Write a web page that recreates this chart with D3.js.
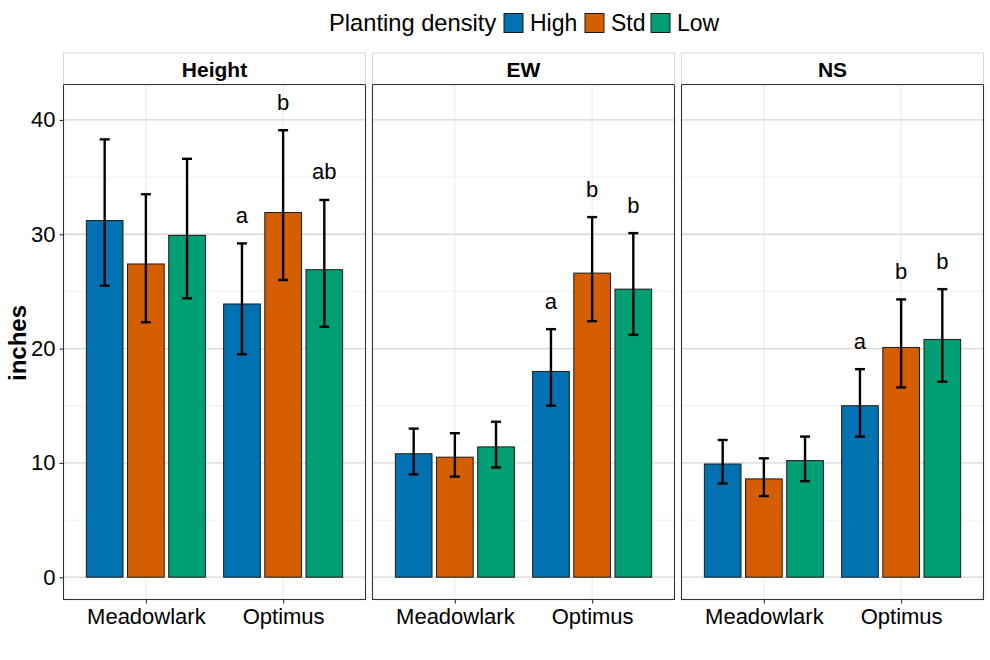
<!DOCTYPE html>
<meta charset="utf-8" />
<style>
  body { margin: 0; background: #fff; }
  svg text { font-family: "Liberation Sans", Arial, sans-serif; fill: #000; }
</style>
<body>
<div id="chart"></div>
<script src="https://cdn.jsdelivr.net/npm/d3@7"></script>
<script>
  // dados
  var paineis = ["Height", "EW", "NS"];
  var cultivares = ["Meadowlark", "Optimus"];
  var densidades = ["High", "Std", "Low"];
  var cores = ["#0072B2", "#D55E00", "#009E73"];
  var yTicks = [0, 10, 20, 30, 40];

  // medias: [painel][cultivar][densidade]
  var medias = [
    [[31.2, 27.4, 29.9], [23.9, 31.9, 26.9]],
    [[10.8, 10.5, 11.4], [18.0, 26.6, 25.2]],
    [[9.9, 8.6, 10.2], [15.0, 20.1, 20.8]],
  ];
  var superior = [
    [[38.3, 33.5, 36.6], [29.2, 39.1, 33.0]],
    [[13.0, 12.6, 13.6], [21.7, 31.5, 30.1]],
    [[12.0, 10.4, 12.3], [18.2, 24.3, 25.2]],
  ];
  var inferior = [
    [[25.5, 22.3, 24.4], [19.5, 26.0, 21.9]],
    [[9.0, 8.8, 9.6], [15.0, 22.4, 21.2]],
    [[8.2, 7.1, 8.4], [12.3, 16.6, 17.1]],
  ];
  var letras = [
    [["", "", ""], ["a", "b", "ab"]],
    [["", "", ""], ["a", "b", "b"]],
    [["", "", ""], ["a", "b", "b"]],
  ];

  var largura = 990, altura = 660;
  var esq = 63.5, larguraPainel = 302, espaco = 7;
  var topoStrip = 53, topoPainel = 84.5, basePainel = 599.5;

  var svg = d3.select("#chart").append("svg")
    .attr("width", largura).attr("height", altura);

  var y = d3.scaleLinear().domain([-1.95, 43.1]).range([basePainel, topoPainel]);
  var x = d3.scalePoint().domain(cultivares).range([0, larguraPainel]).padding(0.6);
  var passo = x.step();
  var dodge = d3.scaleBand().domain(densidades)
    .range([-0.45 * passo, 0.45 * passo])
    .paddingInner(0.11).paddingOuter(0.055);
  var cor = d3.scaleOrdinal().domain(densidades).range(cores);

  // montar linhas da tabela
  var linhas = [];
  paineis.forEach(function (p, pi) {
    cultivares.forEach(function (c, ci) {
      densidades.forEach(function (d, di) {
        linhas.push({ painel: pi, cultivar: c, densidade: d,
          valor: medias[pi][ci][di], sup: superior[pi][ci][di],
          inf: inferior[pi][ci][di], letra: letras[pi][ci][di] });
      });
    });
  });

  paineis.forEach(function (nome, pi) {
    var x0 = esq + pi * (larguraPainel + espaco);
    var g = svg.append("g").attr("transform", "translate(" + x0 + ",0)");

    // grade menor
    [5, 15, 25, 35].forEach(function (v) {
      g.append("line").attr("x1", 0).attr("x2", larguraPainel)
        .attr("y1", y(v)).attr("y2", y(v))
        .attr("stroke", "#ececec").attr("stroke-width", 0.8);
    });
    cultivares.forEach(function (c) {
      g.append("line").attr("x1", x(c)).attr("x2", x(c))
        .attr("y1", topoPainel).attr("y2", basePainel)
        .attr("stroke", "#ebebeb").attr("stroke-width", 1.1);
    });
    yTicks.forEach(function (v) {
      g.append("line").attr("x1", 0).attr("x2", larguraPainel)
        .attr("y1", y(v)).attr("y2", y(v))
        .attr("stroke", "#d6d6d6").attr("stroke-width", 1.3);
    });

    var dados = linhas.filter(function (d) { return d.painel === pi; });

    g.selectAll(".barra").data(dados).enter().append("rect")
      .attr("class", "barra")
      .attr("x", function (d) { return x(d.cultivar) + dodge(d.densidade); })
      .attr("width", dodge.bandwidth())
      .attr("y", function (d) { return y(d.valor); })
      .attr("height", function (d) { return y(0) - y(d.valor); })
      .attr("fill", function (d) { return cor(d.densidade); })
      .attr("stroke", "#1a1a1a").attr("stroke-width", 1);

    // barras de erro
    var meio = function (d) { return x(d.cultivar) + dodge(d.densidade) + dodge.bandwidth() / 2; };
    var erro = g.selectAll(".erro").data(dados).enter().append("g").attr("class", "erro");
    erro.append("line")
      .attr("x1", meio).attr("x2", meio)
      .attr("y1", function (d) { return y(d.sup); })
      .attr("y2", function (d) { return y(d.inf); })
      .attr("stroke", "#000").attr("stroke-width", 2.4);
    ["sup", "inf"].forEach(function (k) {
      erro.append("line")
        .attr("x1", function (d) { return meio(d) - 5; })
        .attr("x2", function (d) { return meio(d) + 5; })
        .attr("y1", function (d) { return y(d[k]); })
        .attr("y2", function (d) { return y(d[k]); })
        .attr("stroke", "#000").attr("stroke-width", 2.4);
    });

    g.selectAll(".letra").data(dados.filter(function (d) { return d.letra; }))
      .enter().append("text")
      .attr("x", meio)
      .attr("y", function (d) { return y(d.sup) - 28; })
      .attr("text-anchor", "middle")
      .attr("dominant-baseline", "central")
      .attr("font-size", "22px")
      .text(function (d) { return d.letra; });

    // borda do painel
    g.append("rect").attr("x", 0).attr("y", topoPainel)
      .attr("width", larguraPainel).attr("height", basePainel - topoPainel)
      .attr("fill", "none").attr("stroke", "#333").attr("stroke-width", 1.1);

    // strip
    g.append("rect").attr("x", 0).attr("y", topoStrip)
      .attr("width", larguraPainel).attr("height", topoPainel - topoStrip)
      .attr("fill", "#fff").attr("stroke", "#d9d9d9").attr("stroke-width", 1);
    g.append("line").attr("x1", 0).attr("x2", larguraPainel)
      .attr("y1", topoPainel).attr("y2", topoPainel)
      .attr("stroke", "#333").attr("stroke-width", 1.1);
    g.append("text")
      .attr("x", larguraPainel / 2).attr("y", (topoStrip + topoPainel) / 2 + 1)
      .attr("text-anchor", "middle").attr("dominant-baseline", "central")
      .attr("font-size", "21px").attr("font-weight", "bold")
      .text(nome);

    // eixo x
    var eixoX = g.append("g").attr("transform", "translate(0," + basePainel + ")")
      .call(d3.axisBottom(x).tickSize(4).tickPadding(5));
    eixoX.select(".domain").remove();
    eixoX.selectAll(".tick line").attr("stroke", "#333").attr("stroke-width", 1.1);
    eixoX.selectAll(".tick text").attr("font-size", "22px")
      .attr("font-family", "Liberation Sans, Arial, sans-serif").attr("fill", "#000");

    if (pi === 0) {
      var eixoY = g.append("g")
        .call(d3.axisLeft(y).tickValues(yTicks).tickSize(4).tickPadding(4));
      eixoY.select(".domain").remove();
      eixoY.selectAll(".tick line").attr("stroke", "#333").attr("stroke-width", 1.1);
      eixoY.selectAll(".tick text").attr("font-size", "22px")
        .attr("font-family", "Liberation Sans, Arial, sans-serif").attr("fill", "#000");
    }
  });

  // titulo do eixo y
  svg.append("text")
    .attr("transform", "translate(17," + 343 + ") rotate(-90)")
    .attr("text-anchor", "middle").attr("dominant-baseline", "central")
    .attr("font-size", "24px").attr("font-weight", "bold")
    .text("inches");

  // legenda
  var leg = svg.append("g");
  leg.append("text").attr("x", 329).attr("y", 23)
    .attr("dominant-baseline", "central").attr("font-size", "23.7px")
    .text("Planting density");
  var posLeg = [504, 585, 651];
  densidades.forEach(function (d, i) {
    leg.append("rect").attr("x", posLeg[i]).attr("y", 13.5)
      .attr("width", 19).attr("height", 19)
      .attr("fill", cor(d)).attr("stroke", "#1a1a1a").attr("stroke-width", 1);
    leg.append("text").attr("x", posLeg[i] + 26).attr("y", 23)
      .attr("dominant-baseline", "central").attr("font-size", "23px")
      .text(d);
  });
</script>
</body>
